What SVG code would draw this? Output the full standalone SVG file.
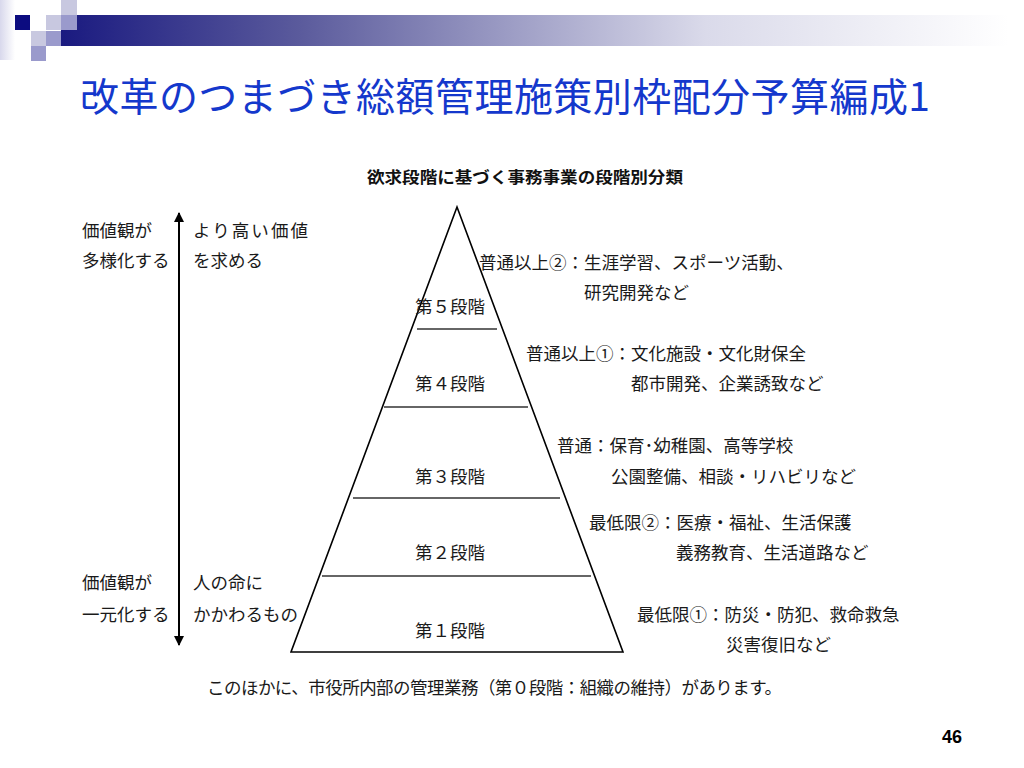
<svg xmlns="http://www.w3.org/2000/svg" width="1024" height="768" viewBox="0 0 1024 768">
<defs>
<linearGradient id="bar" x1="0" y1="0" x2="1" y2="0">
<stop offset="0" stop-color="#1a1a80"/>
<stop offset="0.25" stop-color="#5a5a9c"/>
<stop offset="0.68" stop-color="#dadaea"/>
<stop offset="1" stop-color="#ffffff"/>
</linearGradient>
<linearGradient id="edge" x1="0" y1="0" x2="1" y2="0">
<stop offset="0" stop-color="#d8d8ec"/>
<stop offset="1" stop-color="#ffffff"/>
</linearGradient>
<marker id="ah" viewBox="0 0 10 10" refX="9" refY="5" markerWidth="5" markerHeight="5" orient="auto-start-reverse" markerUnits="strokeWidth">
<path d="M0,0 L10,5 L0,10 z" fill="#000"/>
</marker>
<style>
.t{font-family:"Noto Sans CJK JP","Liberation Serif",serif;font-size:17.5px;fill:#1a1a1a;dominant-baseline:central}
.title{font-family:"Noto Sans CJK JP","Liberation Sans",sans-serif;font-size:39px;fill:#1438cc}
.sub{font-family:"Noto Sans CJK JP","Liberation Sans",sans-serif;font-size:16px;font-weight:bold;fill:#111}
.lt{fill:#c8c8e0}
.md{fill:#9a9acc}
.tier{stroke:#333;stroke-width:1.6;fill:none}
</style>
</defs>
<rect width="1024" height="768" fill="#fff"/>
<g id="decoration">
<rect x="0" y="0" width="15" height="60" fill="url(#edge)"/>
<rect x="61" y="15" width="948" height="31" fill="url(#bar)"/>
<rect x="15" y="15" width="15" height="15" fill="#0c0c80"/>
<rect class="lt" x="46" y="15" width="15" height="15"/>
<rect class="md" x="61" y="15" width="16" height="15"/>
<rect class="lt" x="61" y="0" width="16" height="15"/>
<rect class="lt" x="31" y="31" width="15" height="15"/>
<rect class="md" x="46" y="31" width="15" height="15"/>
<rect class="md" x="31" y="46" width="15" height="15"/>
</g>
<g id="title">
<text class="title" x="80" y="111" textLength="850" lengthAdjust="spacing">改革のつまづき総額管理施策別枠配分予算編成1</text>
</g>
<g id="subtitle">
<text class="sub" x="525" y="183" text-anchor="middle" textLength="316" lengthAdjust="spacingAndGlyphs">欲求段階に基づく事務事業の段階別分類</text>
</g>
<g id="connectors">
<line x1="179" y1="213" x2="179" y2="645" stroke="#000" stroke-width="2" marker-start="url(#ah)" marker-end="url(#ah)"/>
</g>
<g id="pyramid">
<polygon points="457,207 291,652 623,652" fill="none" stroke="#000" stroke-width="1.6"/>
</g>
<g id="tier5">
<text class="t" x="415" y="305">第５段階</text>
<line class="tier" x1="417" y1="329" x2="497" y2="329"/>
</g>
<g id="tier4">
<text class="t" x="415" y="382">第４段階</text>
<line class="tier" x1="384" y1="407" x2="528" y2="407"/>
</g>
<g id="tier3">
<text class="t" x="415" y="475">第３段階</text>
<line class="tier" x1="353" y1="498" x2="560" y2="498"/>
</g>
<g id="tier2">
<text class="t" x="415" y="551">第２段階</text>
<line class="tier" x1="322" y1="576" x2="591" y2="576"/>
</g>
<g id="tier1">
<text class="t" x="415" y="629">第１段階</text>
</g>
<g id="left-top">
<text class="t" x="82" y="229">価値観が</text>
<text class="t" x="82" y="259">多様化する</text>
<text class="t" x="193" y="229" textLength="115" lengthAdjust="spacing">より高い価値</text>
<text class="t" x="193" y="259">を求める</text>
</g>
<g id="left-bottom">
<text class="t" x="82" y="581">価値観が</text>
<text class="t" x="82" y="613">一元化する</text>
<text class="t" x="193" y="581">人の命に</text>
<text class="t" x="193" y="613">かかわるもの</text>
</g>
<g id="desc5">
<text class="t" x="479" y="261">普通以上②：生涯学習、スポーツ活動、</text>
<text class="t" x="584" y="291">研究開発など</text>
</g>
<g id="desc4">
<text class="t" x="526" y="352">普通以上①：文化施設・文化財保全</text>
<text class="t" x="631" y="382">都市開発、企業誘致など</text>
</g>
<g id="desc3">
<text class="t" x="557" y="444">普通：保育･幼稚園、高等学校</text>
<text class="t" x="611" y="475">公園整備、相談・リハビリなど</text>
</g>
<g id="desc2">
<text class="t" x="589" y="521">最低限②：医療・福祉、生活保護</text>
<text class="t" x="676" y="551">義務教育、生活道路など</text>
</g>
<g id="desc1">
<text class="t" x="637" y="613">最低限①：防災・防犯、救命救急</text>
<text class="t" x="726" y="643">災害復旧など</text>
</g>
<g id="note">
<text class="t" x="207" y="686" textLength="575" lengthAdjust="spacing">このほかに、市役所内部の管理業務（第０段階：組織の維持）があります。</text>
</g>
<g id="page">
<text x="962" y="743" text-anchor="end" font-family="'Liberation Sans',Arial,sans-serif" font-size="18" font-weight="bold" fill="#000">46</text>
</g>
</svg>
